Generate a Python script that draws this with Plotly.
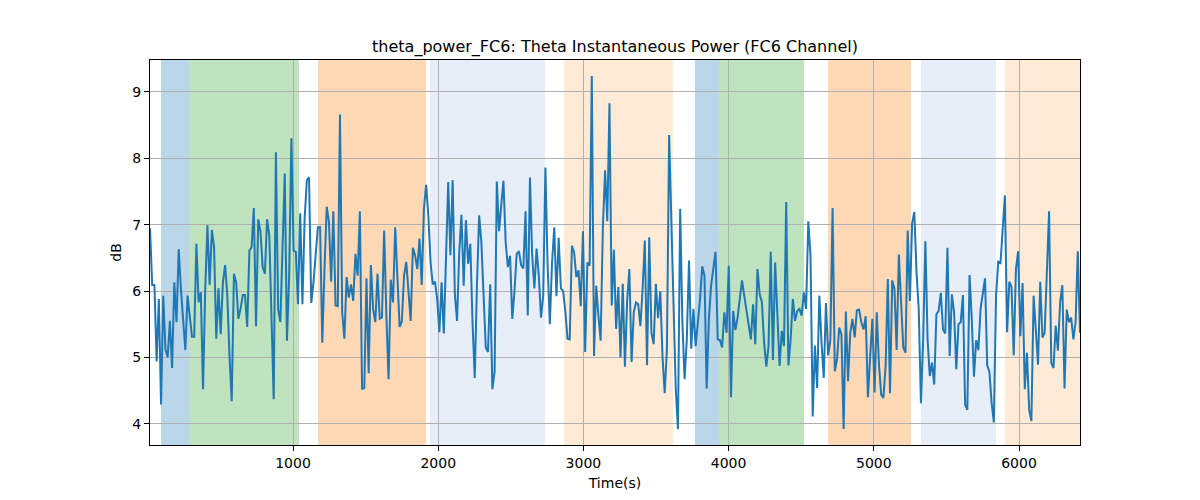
import numpy as np
import plotly.graph_objects as go

# ---- data ----
theta_db = [
    # segment 1
    6.95, 6.09, 6.09, 4.94, 5.88, 4.29, 5.93, 5.12, 5.0, 5.55, 4.84, 6.13, 5.53, 6.63, 6.03, 5.53, 5.11, 5.93, 5.58, 5.31,
    5.31, 6.71, 5.83, 5.98, 4.52, 6.03, 6.99, 6.09, 6.92, 6.66, 5.28, 6.04, 5.35, 6.13, 6.39, 5.93, 5.02, 4.34, 6.26, 6.13,
    5.58, 5.73, 5.94,
    # segment 2
    5.94, 5.46, 6.61, 6.66, 7.25, 5.47, 7.08, 6.9, 6.36, 6.26, 7.08, 6.84, 5.58, 4.37, 8.09, 5.73, 5.53, 6.74, 7.77, 5.25,
    6.23, 8.3, 6.61, 6.59, 5.8, 7.17, 5.8, 7.09, 7.67, 7.71, 5.82, 6.13, 6.59, 6.96, 6.96, 5.22, 6.33, 7.27, 7.04, 6.14, 7.2,
    # segment 3
    5.78, 5.77, 8.66, 5.68, 5.28, 6.21, 5.9, 6.1, 5.85, 6.56, 6.23, 7.2, 4.52, 4.54, 6.19, 4.76, 6.39, 5.73, 5.53, 6.26,
    5.58, 5.6, 6.91, 5.63, 4.67, 6.17, 5.83, 6.96, 6.28, 5.46, 5.54, 6.23, 6.44, 6.03, 5.55, 6.65, 6.54, 6.33, 6.79, 6.09,
    7.24, 7.6, 7.14,
    # segment 4
    6.43, 6.1, 6.14, 5.88, 5.38, 6.13, 5.36, 6.54, 7.64, 6.54, 7.67, 5.95, 5.55, 6.59, 7.15, 6.08, 7.07, 6.41, 6.71, 5.53,
    4.69, 6.08, 7.14, 6.74, 5.83, 5.15, 5.08, 6.1, 4.52, 4.79, 7.65, 6.9, 7.29, 7.66, 6.74, 6.36, 6.53, 5.58, 6.0, 6.56,
    6.6, 6.39, 6.34, 7.2,
    # segment 5
    5.63, 7.71, 6.54, 6.04, 6.64, 6.23, 5.6, 5.93, 7.86, 6.38, 5.5, 6.43, 6.96, 5.92, 6.8, 6.04, 6.0, 5.7, 5.28, 5.27,
    6.68, 6.58, 6.21, 6.31, 5.77, 6.9, 5.08, 6.43, 6.38, 9.24, 5.02, 6.08, 5.63, 5.25, 6.94, 7.82, 7.05, 8.83, 5.78, 6.62,
    5.43, 6.06,
    # segment 6
    5.0, 6.11, 4.86, 5.86, 6.33, 4.93, 5.68, 5.83, 5.8, 5.47, 6.03, 6.76, 4.88, 6.81, 5.37, 5.2, 6.11, 5.59, 6.0, 5.02,
    4.46, 5.12, 8.35, 6.94, 5.63, 4.52, 3.92, 7.24, 5.53, 4.67, 5.27, 6.46, 5.13, 5.73, 5.17, 5.53, 5.88, 6.37, 6.23, 4.53,
    5.58, 6.08, 6.33,
    # segment 7
    6.59, 5.27, 5.26, 5.15, 5.68, 5.37, 6.38, 4.4, 5.7, 5.41, 5.6, 5.88, 6.16, 5.93, 5.73, 5.53, 5.27, 5.8, 5.2, 6.33,
    5.95, 5.83, 5.22, 4.86, 5.17, 6.59, 4.96, 6.43, 5.68, 4.87, 5.4, 5.17, 7.34, 4.88, 5.27, 5.88, 5.55, 5.7, 5.73, 5.63,
    5.98, 5.73, 7.05,
    # segment 8
    6.54, 4.11, 5.18, 4.54, 5.93, 5.22, 4.69, 5.82, 5.03, 5.27, 7.25, 4.79, 4.97, 5.45, 5.35, 3.92, 5.69, 4.64, 5.37, 5.58,
    5.3, 5.71, 5.72, 5.53, 5.42, 5.62, 4.4, 5.0, 5.58, 4.47, 5.68, 4.89, 4.44, 4.39, 4.87, 6.18, 4.46, 6.16, 6.03, 5.11,
    6.55, 5.83, 5.15,
    # segment 9
    5.07, 6.91, 5.85, 7.02, 7.19, 6.28, 5.73, 4.31, 5.27, 6.75, 5.27, 4.72, 4.92, 4.59, 5.65, 5.7, 5.97, 5.42, 5.36, 6.65,
    5.02, 5.95, 5.68, 4.82, 5.5, 5.53, 5.94, 4.29, 4.21, 6.24, 5.58, 4.71, 5.26, 5.11, 5.73, 5.98, 6.19, 4.88, 4.78, 4.31,
    4.02, 5.93, 6.44, 6.42, 7.02,
    # segment 10
    7.44, 5.38, 6.14, 6.06, 5.03, 6.33, 6.6, 5.32, 6.12, 4.52, 5.07, 4.21, 4.04, 5.93, 5.42, 4.89, 6.14, 5.3, 5.37, 6.28,
    7.2, 4.92, 4.84, 5.48, 5.1, 5.83, 6.09, 4.53, 5.72, 5.53, 5.6, 5.27, 5.53, 6.6, 5.37,
]
t_start = 15.0
t_end = 6420.0

span_starts = [91, 284, 1172, 1944, 2867, 3768, 3934, 4684, 5325, 5903]
span_ends = [284, 1041, 1916, 2736, 3617, 3934, 4519, 5256, 5841, 6420]
span_colors = [
    "rgba(31,119,180,0.3)", "rgba(44,160,44,0.3)", "rgba(255,127,14,0.3)",
    "rgba(174,199,232,0.3)", "rgba(255,187,120,0.3)",
    "rgba(31,119,180,0.3)", "rgba(44,160,44,0.3)", "rgba(255,127,14,0.3)",
    "rgba(174,199,232,0.3)", "rgba(255,187,120,0.3)",
]

x_ticks = [1000, 2000, 3000, 4000, 5000, 6000]
y_ticks = [4, 5, 6, 7, 8, 9]

n = len(theta_db)
times = t_start + np.arange(n) * (t_end - t_start) / (n - 1)

fig = go.Figure()
fig.add_trace(go.Scatter(x=times, y=theta_db, mode="lines",
                         line=dict(color="#1f77b4", width=2), showlegend=False))

for s, e, c in zip(span_starts, span_ends, span_colors):
    fig.add_shape(type="rect", xref="x", yref="paper", x0=s, x1=e, y0=0, y1=1,
                  fillcolor=c, line=dict(width=0), layer="below")

font = "DejaVu Sans"
fig.update_layout(
    width=1200, height=500,
    margin=dict(l=150, r=120, t=60, b=55),
    paper_bgcolor="white", plot_bgcolor="white",
    font=dict(family=font, size=14, color="black"),
    title=dict(text="theta_power_FC6: Theta Instantaneous Power (FC6 Channel)",
               x=615 / 1200, xanchor="center", y=1 - 46 / 500, yanchor="middle",
               yref="container", font=dict(size=16, family=font, color="black")),
)
axis_common = dict(showgrid=True, gridcolor="#b0b0b0", gridwidth=0.8,
                   showline=True, linecolor="black", linewidth=1, mirror=True,
                   ticks="outside", ticklen=5, tickcolor="black", tickwidth=1,
                   zeroline=False, tickfont=dict(size=14, family=font))
fig.update_xaxes(range=[t_start, t_end], tickvals=x_ticks,
                 title=dict(text="Time(s)", font=dict(size=14), standoff=8), **axis_common)
fig.update_yaxes(range=[3.68, 9.48], tickvals=y_ticks,
                 title=dict(text="dB", font=dict(size=14), standoff=7), **axis_common)

fig.write_html("out.html")
